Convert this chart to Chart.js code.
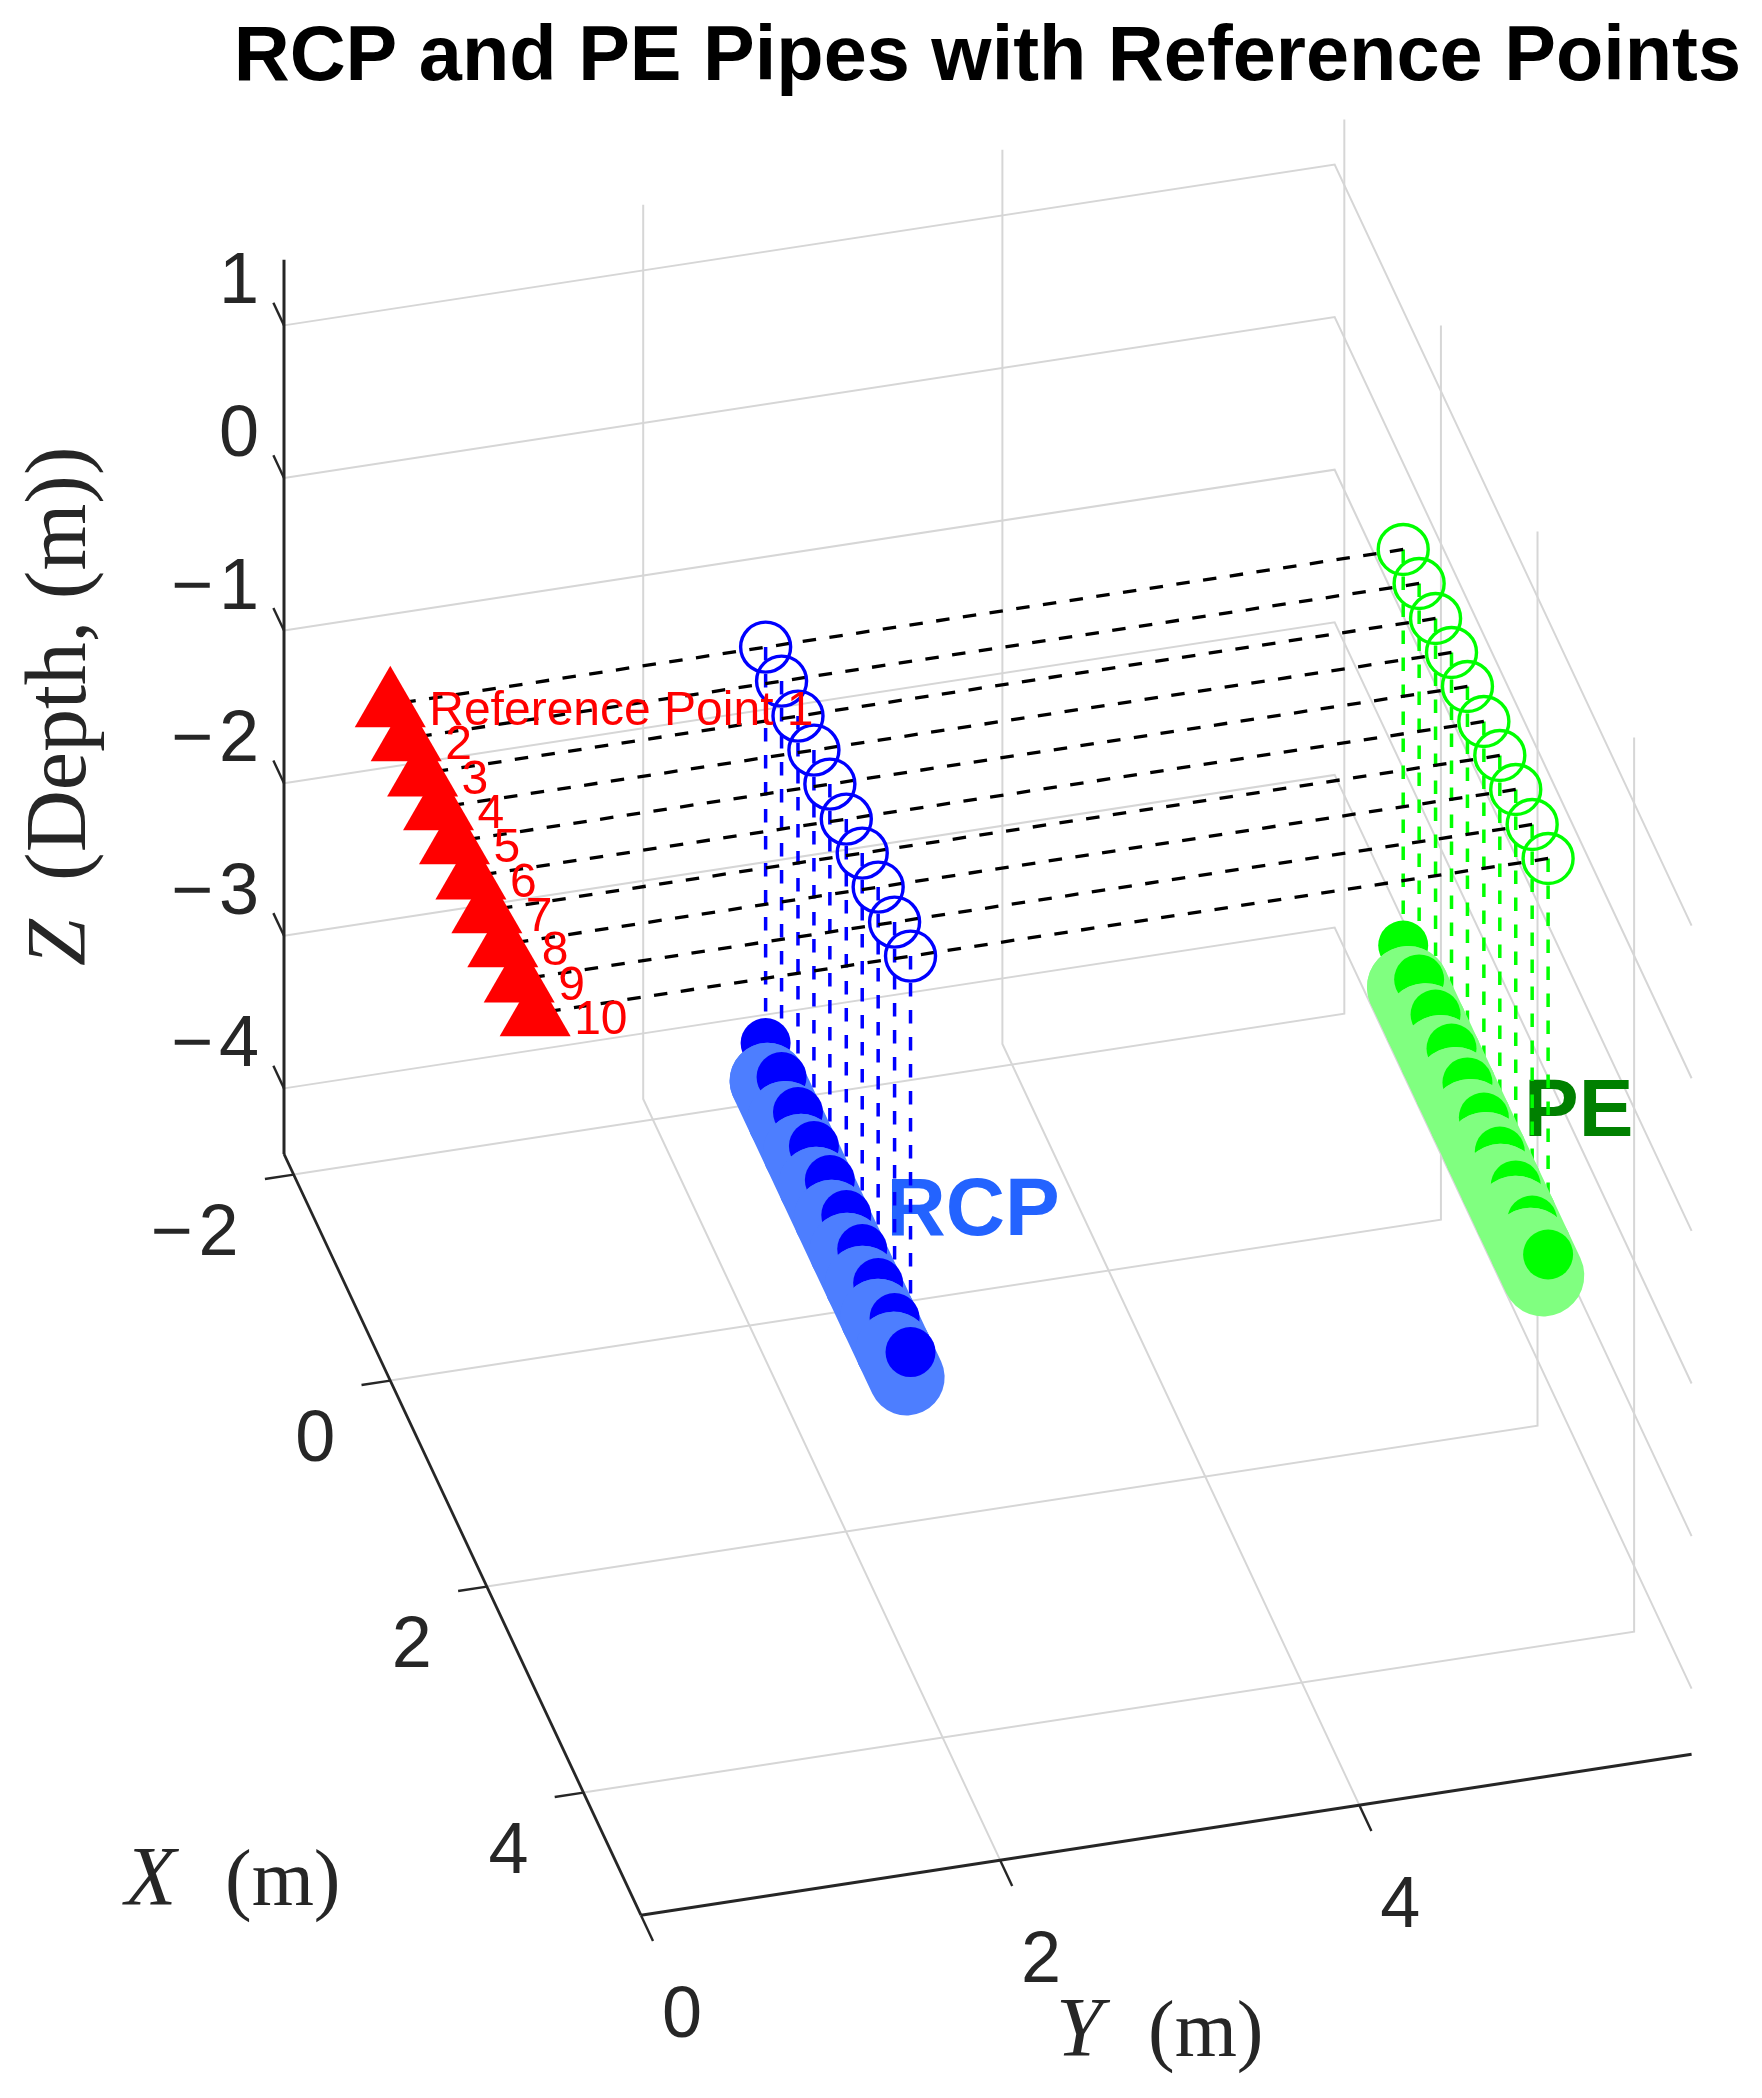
<!DOCTYPE html>
<html><head><meta charset="utf-8">
<style>html,body{margin:0;padding:0;background:#fff}canvas{display:block;filter:blur(0.5px)}</style>
<script src="https://cdn.jsdelivr.net/npm/chart.js@4/dist/chart.umd.min.js"></script>
</head><body><canvas id="c" width="1762" height="2098"></canvas>
<script>
// ---- data (metres) ----
const xLim=[-2.2,5.19], yLim=[0,5.85], zLim=[-4.43,1.43];
const xTicks=[-2,0,2,4], yTicks=[0,2,4], zTicks=[1,0,-1,-2,-3,-4];
const pointX=[0,0.33,0.67,1,1.33,1.67,2,2.33,2.67,3];
const refY=0, rcpY=2.09, peY=5.64;
const refZ=-0.015, airZ=0, surfaceZ=-2.595;
const rcpPipeX=[0.04,0.41,0.73,1.05,1.37,1.69,2.01,2.33,2.65,2.92];
const pePipeX=[0.1,0.46,0.77,1.08,1.39,1.71,2.02,2.33,2.64,2.9];
const rcpPipeZ=-2.815, pePipeZ=-2.8;
const refLabels=['Reference Point 1','2','3','4','5','6','7','8','9','10'];
const titleText='RCP and PE Pipes with Reference Points';

// ---- view of the 3-D box onto the flat chart scales ----
const view={ox:284,oy:1154,xx:48.3,xy:103,yx:179.6,yy:-27.5,zy:-152.6};
const P=(X,Y,Z)=>({x:view.ox+view.xx*(X-xLim[0])+view.yx*(Y-yLim[0]),
                   y:view.oy+view.xy*(X-xLim[0])+view.yy*(Y-yLim[0])+view.zy*(Z-zLim[0])});
const TITLE_PAD=12, TITLE_SIZE=77.5, TITLE_LH=1.2;

const layers=[];
const line=(pts,color,width,dash,cap)=>layers.push({type:'scatter',showLine:true,data:pts,borderColor:color,
  borderWidth:width,borderDash:dash||[],borderCapStyle:cap||'butt',pointRadius:0,fill:false,tension:0,clip:false});
const dots=(pts,o)=>layers.push(Object.assign({type:'scatter',showLine:false,data:pts,pointBorderWidth:0,
  pointStyle:'circle',clip:false},o));

// grid
const GRID='#d6d6d6';
zTicks.forEach(z=>line([P(xLim[0],0,z),P(xLim[0],yLim[1],z),P(xLim[1],yLim[1],z)],GRID,2));
yTicks.filter(y=>y>0).forEach(y=>line([P(xLim[0],y,zLim[1]),P(xLim[0],y,zLim[0]),P(xLim[1],y,zLim[0])],GRID,2));
xTicks.forEach(x=>line([P(x,0,zLim[0]),P(x,yLim[1],zLim[0]),P(x,yLim[1],zLim[1])],GRID,2));
// axes
const AX='#262626';
line([P(xLim[0],0,zLim[1]),P(xLim[0],0,zLim[0])],AX,3);
line([P(xLim[0],0,zLim[0]),P(xLim[1],0,zLim[0])],AX,2.8);
line([P(xLim[1],0,zLim[0]),P(xLim[1],yLim[1],zLim[0])],AX,3);
zTicks.forEach(z=>line([P(xLim[0],0,z),P(xLim[0]-0.22,0,z)],AX,2.4));
xTicks.forEach(x=>line([P(x,0,zLim[0]),P(x,-0.16,zLim[0])],AX,2.4));
yTicks.forEach(y=>line([P(xLim[1],y,zLim[0]),P(xLim[1]+0.25,y,zLim[0])],AX,2.4));
// dashed drop lines and survey lines
const dashStart=layers.length;
const DASH=[13.5,13.5];
pointX.forEach(x=>line([P(x,rcpY,airZ),P(x,rcpY,surfaceZ)],'#0000ff',3.5,DASH));
pointX.forEach(x=>line([P(x,peY,airZ),P(x,peY,surfaceZ)],'#00ff00',3.5,DASH));
pointX.forEach(x=>line([P(x,peY,airZ),P(x,refY,airZ)],'#000000',3.3,DASH));
// pipes and surface points, painted in turn so each pipe disc overlaps its point
function pipe(pipeX,pipeZ,Y,col,dark,w){
  pipeX.forEach((px,i)=>{
    if(i>0) line([P(pipeX[i-1],Y,pipeZ),P(px,Y,pipeZ)],col,w,[],'round');
    dots([P(pointX[i],Y,surfaceZ)],{pointRadius:25,pointBackgroundColor:dark});
    if(i<pipeX.length-1) dots([P(px,Y,pipeZ)],{pointRadius:w/2,pointBackgroundColor:col});
  });
}
pipe(rcpPipeX,rcpPipeZ,rcpY,'#4d7eff','#0000ff',76);
pipe(pePipeX,pePipeZ,peY,'#80ff80','#00ff00',82);
// air points and reference triangles
const ring=c=>({pointRadius:25,pointBackgroundColor:'rgba(0,0,0,0)',pointBorderColor:c,pointBorderWidth:3.4});
dots(pointX.map(x=>P(x,rcpY,airZ)),ring('#0000ff'));
dots(pointX.map(x=>P(x,peY,airZ)),ring('#00ff00'));
dots(pointX.map(x=>P(x,refY,refZ)),{pointStyle:'triangle',pointRadius:41,pointBackgroundColor:'#ff0000'});

const dashIndex=layers.length-1-dashStart; // Chart.js paints the last dataset first
const SANS='"Liberation Sans",Arial,sans-serif', SERIF='"Liberation Serif",serif';
function txt(ctx,s,x,y,font,color,align){ctx.font=font;ctx.fillStyle=color;ctx.textAlign=align||'left';ctx.textBaseline='alphabetic';ctx.fillText(s,x,y);}
const minus=v=>(v<0?'\u2212':'')+Math.abs(v);
function tickText(c,v,x,y,font,align){
  // the reference sets its minus sign a little away from the digit
  c.letterSpacing=v<0?'6px':'0px';
  txt(c,minus(v),x+(v<0?6:0),y,font,AX,align);
  c.letterSpacing='0px';
}

const textPlugin={id:'textPlugin',
  beforeDatasetDraw(chart,args){
    if(args.index!==dashIndex) return;
    const c=chart.ctx;
    c.save();
    let a=P(3,rcpY,-1.83); txt(c,'RCP',a.x-24,a.y,'bold 82px '+SANS,'#2363ff');
    a=P(3,peY,-1.95); txt(c,'PE',a.x-24,a.y-20,'bold 82px '+SANS,'#008000');
    c.restore();
  },
  afterDatasetsDraw(chart){
    const c=chart.ctx;
    c.save();
    refLabels.forEach((s,i)=>{const a=P(pointX[i],refY,airZ);txt(c,s,a.x+39,a.y+20,'48px '+SANS,'#ff0000');});
    const TF='72px '+SANS;
    zTicks.forEach(z=>{const a=P(xLim[0],0,z);tickText(c,z,a.x-25,a.y-22,TF,'right');});
    xTicks.forEach(x=>{const a=P(x,0,zLim[0]);tickText(c,x,a.x-55,a.y+80,TF,'right');});
    yTicks.forEach(y=>{const a=P(xLim[1],y,zLim[0]);tickText(c,y,a.x+41,a.y+122,TF,'center');});
    // axis labels
    txt(c,'X',125,1905,'italic 84px '+SERIF,AX);
    txt(c,'(m)',225,1905,'80px '+SERIF,AX);
    txt(c,'Y',1056,2056,'italic 84px '+SERIF,AX);
    txt(c,'(m)',1148,2056,'80px '+SERIF,AX);
    c.translate(85,966);c.rotate(-Math.PI/2);
    txt(c,'Z',0,0,'italic 84px '+SERIF,AX);
    txt(c,'(Depth, (m))',85,0,'86px '+SERIF,AX);
    c.restore();
  }};

const chart=new Chart(document.getElementById('c'),{
  type:'scatter',
  data:{datasets:layers.slice().reverse()},
  plugins:[textPlugin],
  options:{responsive:false,animation:false,devicePixelRatio:1,
    layout:{padding:{right:21}},
    plugins:{legend:{display:false},tooltip:{enabled:false},
      title:{display:true,text:titleText,align:'end',color:'#000',
        font:{family:'"Liberation Sans",Arial,sans-serif',weight:'bold',size:TITLE_SIZE,lineHeight:TITLE_LH},
        padding:{top:TITLE_PAD,bottom:0}}},
    scales:{x:{type:'linear',display:false,min:0,max:1741},
            y:{type:'linear',display:false,reverse:true,min:0,max:2098}}}
});
// one scale unit = one page pixel, whatever plot area the layout settled on
const a=chart.chartArea;
chart.options.scales.x.min=a.left; chart.options.scales.x.max=a.right;
chart.options.scales.y.min=a.top;  chart.options.scales.y.max=a.bottom;
chart.update();
</script></body></html>
